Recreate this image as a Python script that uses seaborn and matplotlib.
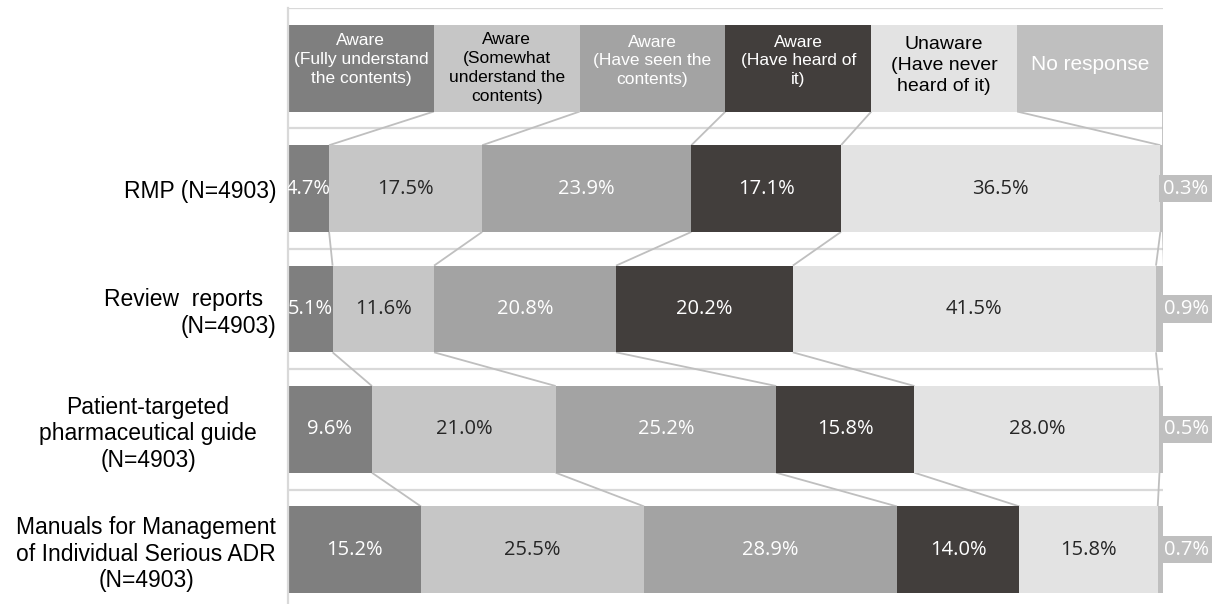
import matplotlib
matplotlib.use("Agg")
import matplotlib.pyplot as plt
import pandas as pd
import seaborn as sns

# Row (category) labels
rows = [
    "RMP (N=4903)",
    "Review  reports  \n(N=4903)",
    "Patient-targeted\npharmaceutical guide\n(N=4903)",
    "Manuals for Management\nof Individual Serious ADR\n(N=4903)",
]

# Response categories (stack order, left to right)
series = [
    "Aware\n(Fully understand\nthe contents)",
    "Aware\n(Somewhat\nunderstand the\ncontents)",
    "Aware\n(Have seen the\ncontents)",
    "Aware\n(Have heard of\nit)",
    "Unaware\n(Have never\nheard of it)",
    "No response",
]

# Shares (%) per row for each response category
fully = [4.7, 5.1, 9.6, 15.2]
somewhat = [17.5, 11.6, 21.0, 25.5]
seen = [23.9, 20.8, 25.2, 28.9]
heard = [17.1, 20.2, 15.8, 14.0]
unaware = [36.5, 41.5, 28.0, 15.8]
no_response = [0.3, 0.9, 0.5, 0.7]

colors = ["#7f7f7f", "#c6c6c6", "#a3a3a3", "#423e3c", "#e3e3e3", "#bfbfbf"]
key_text_colors = ["white", "black", "white", "white", "black", "white"]
key_font_sizes = [12.5, 12.5, 12.5, 12.5, 14, 15]
key_y_shift = [-0.07, 0.0, -0.06, -0.06, -0.02, -0.03]
value_text_colors = ["white", "#262626", "white", "white", "#262626", "white"]

sns.set_theme(style="white")
plt.rcParams["font.family"] = ["Liberation Sans", "DejaVu Sans"]

# Long table: a key row with equal-width boxes on top, then the data rows
values = [fully, somewhat, seen, heard, unaware, no_response]
key_row = "key"
order = [key_row] + rows
key_share = 100 / len(series)
records = []
for s, vals in zip(series, values):
    for r, v in zip(order, [key_share] + list(vals)):
        records.append({"row": r, "series": s, "value": v})
df = pd.DataFrame(records)
df["series"] = pd.Categorical(df["series"], categories=series, ordered=True)
df = df.sort_values(["row", "series"])
df["end"] = df.groupby("row", sort=False)["value"].cumsum()
df["start"] = df["end"] - df["value"]
df["series"] = df["series"].astype(str)

fig = plt.figure(figsize=(12.16, 6.04), dpi=100)
ax = fig.add_axes([0.2368, -0.0099, 0.7196, 0.9967])

bar_h = 0.72
# Stacked bars: draw cumulative totals from the last category backwards
for s, c in reversed(list(zip(series, colors))):
    sub = df[df["series"] == s]
    sns.barplot(data=sub, x="end", y="row", order=order, orient="h",
                color=c, saturation=1, width=bar_h, errorbar=None, ax=ax,
                linewidth=0, edgecolor="none", zorder=2)

ax.set_xlim(0, 100)
ax.set_ylim(len(order) - 0.5, -0.5)

# Category separators and top border
for i in range(len(order)):
    ax.axhline(i - 0.5, color="#d9d9d9", lw=1.6, zorder=0)

# Series lines joining segment boundaries between neighbouring rows
ends = {(r, s): e for r, s, e in zip(df["row"], df["series"], df["end"])}
for s in series:
    for a, b in zip(range(len(order) - 1), range(1, len(order))):
        x0 = ends[(order[a], s)]
        x1 = ends[(order[b], s)]
        ax.plot([x0, x1], [a + bar_h / 2, b - bar_h / 2],
                color="#bfbfbf", lw=1.3, zorder=1, solid_capstyle="butt")

# Key boxes text
key = df[df["row"] == key_row]
for (_, rec), tc, fs, dy in zip(key.iterrows(), key_text_colors,
                                key_font_sizes, key_y_shift):
    ax.text((rec["start"] + rec["end"]) / 2, 0 + dy, rec["series"],
            ha="center", va="center", color=tc, fontsize=fs,
            linespacing=1.32, zorder=4)

# Value labels
for i, r in enumerate(rows, start=1):
    sub = df[df["row"] == r]
    for k, (_, rec) in enumerate(sub.iterrows()):
        txt = f"{rec['value']:.1f}%"
        if k < len(series) - 1:
            ax.text((rec["start"] + rec["end"]) / 2, i, txt,
                    ha="center", va="center", color=value_text_colors[k],
                    fontsize=14.5, family="Open Sans", zorder=4, clip_on=True)
        else:
            ax.text(rec["end"], i, txt, ha="left", va="center",
                    color="white", fontsize=14.5, family="Open Sans",
                    zorder=4, clip_on=False,
                    bbox=dict(boxstyle="square,pad=0.18", fc="#bfbfbf",
                              ec="none"))

# Axes styling
ax.set_xlabel("")
ax.set_ylabel("")
ax.set_xticks([])
ax.set_yticks(range(len(order)))
ax.set_yticklabels([""] + rows, fontsize=16.5, color="black")
ax.tick_params(axis="y", length=0, pad=8.5)
for lab in ax.get_yticklabels():
    lab.set_multialignment("center")
ax.get_yticklabels()[2].set_multialignment("right")
ax.get_yticklabels()[3].set_x(-0.022)
for side in ["top", "right", "bottom"]:
    ax.spines[side].set_visible(False)
ax.spines["left"].set_color("#d9d9d9")
ax.spines["left"].set_linewidth(1.6)
ax.set_facecolor("white")

fig.savefig("out.png", dpi=100, facecolor="white")
